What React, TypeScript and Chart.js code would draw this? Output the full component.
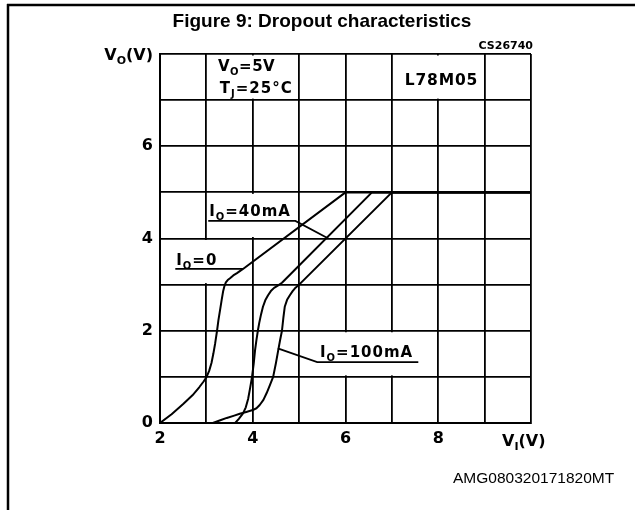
import { useEffect, useRef } from 'react';
import { Chart, registerables } from 'chart.js';

Chart.register(...registerables);

// I_O = 0 curve
const io0X = [2.0, 2.25, 2.5, 2.7, 2.85, 2.94, 3.0, 3.06, 3.11, 3.15, 3.19, 3.23, 3.26, 3.3, 3.33, 3.36, 3.39, 3.42, 3.46, 3.51, 3.58, 3.66, 3.79, 6.0, 10.0];
const io0Y = [0.0, 0.19, 0.41, 0.6, 0.78, 0.9, 0.99, 1.13, 1.3, 1.5, 1.73, 2.0, 2.23, 2.48, 2.67, 2.85, 2.97, 3.05, 3.1, 3.14, 3.2, 3.25, 3.34, 5.0, 5.0];
// I_O = 40mA curve
const io40X = [3.62, 3.7, 3.79, 3.85, 3.9, 3.94, 3.98, 4.02, 4.05, 4.08, 4.11, 4.14, 4.18, 4.22, 4.27, 4.33, 4.39, 4.46, 4.54, 4.63, 6.57, 10.0];
const io40Y = [0.0, 0.09, 0.21, 0.34, 0.52, 0.74, 0.97, 1.28, 1.58, 1.8, 2.0, 2.17, 2.36, 2.52, 2.66, 2.77, 2.86, 2.93, 2.98, 3.04, 5.0, 5.0];
// I_O = 100mA curve
const io100X = [3.14, 3.3, 3.44, 3.6, 3.72, 3.86, 4.0, 4.08, 4.15, 4.23, 4.3, 4.37, 4.44, 4.5, 4.55, 4.59, 4.63, 4.66, 4.69, 4.74, 4.8, 4.86, 4.91, 5.0, 7.0, 10.0];
const io100Y = [0.0, 0.06, 0.11, 0.16, 0.2, 0.24, 0.28, 0.32, 0.39, 0.5, 0.65, 0.82, 1.0, 1.3, 1.58, 1.8, 2.0, 2.28, 2.52, 2.67, 2.77, 2.86, 2.92, 3.0, 5.0, 5.0];

const seriesNames = ['IO=0', 'IO=40mA', 'IO=100mA'];
const xTickLabels = ['2', '4', '6', '8'];
const yTickLabels = ['0', '2', '4', '6'];

const toPoints = (xs: number[], ys: number[]) => xs.map((x, i) => ({ x, y: ys[i] }));

type Seg = { t: string; sub?: boolean };

function drawRich(ctx: CanvasRenderingContext2D, segs: Seg[], x: number, y: number, size: number, spacing: number, align: 'left' | 'right' = 'left') {
  const main = `bold ${size}px "DejaVu Sans"`;
  const subSize = Math.round(size * 0.68);
  const sub = `bold ${subSize}px "DejaVu Sans"`;
  ctx.save();
  (ctx as any).letterSpacing = `${spacing}px`;
  ctx.textBaseline = 'alphabetic';
  ctx.textAlign = 'left';
  let total = 0;
  const widths = segs.map((s) => {
    ctx.font = s.sub ? sub : main;
    const w = ctx.measureText(s.t).width;
    total += w;
    return w;
  });
  let cx = align === 'right' ? x - total : x;
  segs.forEach((s, i) => {
    ctx.font = s.sub ? sub : main;
    ctx.fillText(s.t, cx, s.sub ? y + size * 0.28 : y);
    cx += widths[i];
  });
  ctx.restore();
  return total;
}

const annotPlugin = {
  id: 'annot',
  beforeDatasetsDraw(chart: any) {
    const { ctx, scales } = chart;
    const xs = scales.x;
    const ys = scales.y;
    // grid segments hidden behind labels: [x, yFrom, yTo]
    const erase = [
      [4, 7, 8],
      [8, 7, 8],
      [4, 4, 5],
      [3, 3, 4],
      [6, 1, 2],
      [7, 1, 2],
    ];
    ctx.save();
    ctx.fillStyle = '#ffffff';
    erase.forEach(([xv, y0, y1]) => {
      const px = xs.getPixelForValue(xv);
      const top = ys.getPixelForValue(y1) + 1.5;
      const bot = ys.getPixelForValue(y0) - 1.5;
      ctx.fillRect(px - 2, top, 4, bot - top);
    });
    ctx.restore();
  },
  afterDatasetsDraw(chart: any) {
    const { ctx, scales } = chart;
    const xs = scales.x;
    const ys = scales.y;
    const X = (v: number) => xs.getPixelForValue(v);
    const Y = (v: number) => ys.getPixelForValue(v);
    ctx.save();
    ctx.fillStyle = '#000';
    ctx.strokeStyle = '#000';

    // frame
    ctx.lineWidth = 2.5;
    ctx.beginPath();
    ctx.moveTo(7, 5);
    ctx.lineTo(635, 5);
    ctx.moveTo(8, 4);
    ctx.lineTo(8, 510);
    ctx.stroke();

    // title
    ctx.font = 'bold 19px "Liberation Sans"';
    ctx.textAlign = 'center';
    ctx.textBaseline = 'alphabetic';
    ctx.fillText('Figure 9: Dropout characteristics', 322, 27);

    ctx.font = 'bold 11px "DejaVu Sans"';
    ctx.textAlign = 'right';
    ctx.fillText('CS26740', 533, 49);

    ctx.font = '15.5px "Liberation Sans"';
    ctx.textAlign = 'left';
    ctx.fillText('AMG080320171820MT', 453, 483);

    // axis labels
    drawRich(ctx, [{ t: 'V' }, { t: 'O', sub: true }, { t: '(V)' }], 153, Y(8) + 6, 16, 0, 'right');
    drawRich(ctx, [{ t: 'V' }, { t: 'I', sub: true }, { t: '(V)' }], 502, Y(0) + 23, 16, 0);

    // condition labels
    drawRich(ctx, [{ t: 'V' }, { t: 'O', sub: true }, { t: '=5V' }], X(3.25), Y(7.63), 15, 0.5);
    drawRich(ctx, [{ t: 'T' }, { t: 'J', sub: true }, { t: '=25°C' }], X(3.29), Y(7.15), 15, 1);
    drawRich(ctx, [{ t: 'L78M05' }], X(7.28), Y(7.33), 15.5, 0.8);

    // curve labels
    ctx.lineWidth = 1.8;
    drawRich(ctx, [{ t: 'I' }, { t: 'O', sub: true }, { t: '=40mA' }], X(3.06), Y(4.49), 15, 1);
    ctx.beginPath();
    ctx.moveTo(X(3.04), Y(4.38));
    ctx.lineTo(X(4.92), Y(4.38));
    ctx.lineTo(X(5.63), Y(4.0));
    ctx.stroke();

    drawRich(ctx, [{ t: 'I' }, { t: 'O', sub: true }, { t: '=0' }], X(2.35), Y(3.43), 15, 1);
    ctx.beginPath();
    ctx.moveTo(X(2.33), Y(3.34));
    ctx.lineTo(X(3.79), Y(3.34));
    ctx.stroke();

    drawRich(ctx, [{ t: 'I' }, { t: 'O', sub: true }, { t: '=100mA' }], X(5.45), Y(1.43), 15, 1);
    ctx.beginPath();
    ctx.moveTo(X(7.57), Y(1.32));
    ctx.lineTo(X(5.39), Y(1.32));
    ctx.lineTo(X(4.54), Y(1.62));
    ctx.stroke();

    ctx.restore();
  },
};

export default function App() {
  const canvasRef = useRef<HTMLCanvasElement | null>(null);

  useEffect(() => {
    if (!canvasRef.current) return;
    const ds = [
      toPoints(io0X, io0Y),
      toPoints(io40X, io40Y),
      toPoints(io100X, io100Y),
    ].map((data, i) => ({
      label: seriesNames[i],
      data,
      borderColor: '#000',
      borderWidth: 2,
      borderJoinStyle: 'round' as const,
      pointRadius: 0,
      fill: false,
      showLine: true,
      tension: 0,
    }));

    const chart = new Chart(canvasRef.current, {
      type: 'scatter',
      data: { datasets: ds as any },
      options: {
        animation: false,
        responsive: true,
        maintainAspectRatio: false,
        devicePixelRatio: 1,
        layout: { padding: { left: 0, right: 104, top: 54, bottom: 0 } },
        plugins: {
          legend: { display: false },
          title: { display: false },
          tooltip: { enabled: false },
        },
        scales: {
          x: {
            type: 'linear',
            min: 2,
            max: 10,
            afterFit: (s: any) => { s.height = 87; },
            border: { display: true, color: '#000', width: 2 },
            grid: { color: '#000', lineWidth: 1.8, drawTicks: false },
            ticks: {
              stepSize: 1,
              autoSkip: false,
              maxRotation: 0,
              padding: 6,
              color: '#000',
              font: { family: 'DejaVu Sans', size: 16, weight: 'bold' },
              callback: (v: any) => (xTickLabels.includes(String(v)) ? String(v) : ''),
            },
          },
          y: {
            type: 'linear',
            min: 0,
            max: 8,
            afterFit: (s: any) => { s.width = 160; },
            border: { display: true, color: '#000', width: 2 },
            grid: { color: '#000', lineWidth: 1.8, drawTicks: false },
            ticks: {
              stepSize: 1,
              autoSkip: false,
              padding: 7,
              color: '#000',
              font: { family: 'DejaVu Sans', size: 16, weight: 'bold' },
              callback: (v: any) => (yTickLabels.includes(String(v)) ? String(v) : ''),
            },
          },
        },
      },
      plugins: [annotPlugin],
    });
    return () => chart.destroy();
  }, []);

  return (
    <div style={{ position: 'absolute', left: 0, top: 0, width: 635, height: 510, background: '#fff' }}>
      <canvas ref={canvasRef} />
    </div>
  );
}
